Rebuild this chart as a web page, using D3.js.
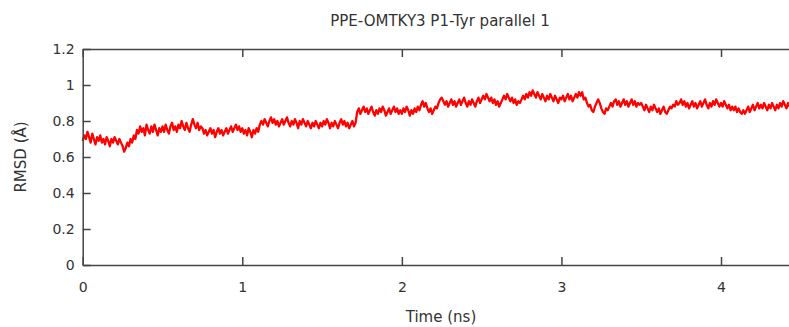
<!DOCTYPE html>
<html>
<head>
<meta charset="utf-8">
<script src="https://cdn.jsdelivr.net/npm/d3@7/dist/d3.min.js"></script>
<style>
  html, body { margin: 0; padding: 0; background: #fff; overflow: hidden; }
  svg { display: block; }
  text { font-family: "DejaVu Sans", Verdana, sans-serif; fill: #333; }
</style>
</head>
<body>
<svg id="chart" width="789" height="327"></svg>
<script>
// RMSD trace sampled every 0.01 ns, 0 – 4.5 ns
const timeStep = 0.01;
const rmsd = [
  0.69,0.72,0.70,0.74,0.71,0.68,0.73,0.70,0.67,0.71,0.69,0.72,0.68,0.70,0.67,0.71,0.69,0.66,0.70,0.68,0.71,0.69,0.67,0.70,0.68,
  0.66,0.63,0.65,0.68,0.66,0.70,0.68,0.72,0.70,0.75,0.73,0.77,0.74,0.76,0.72,0.78,0.75,0.73,0.77,0.74,0.78,0.75,0.72,0.76,0.74,
  0.77,0.74,0.78,0.75,0.73,0.77,0.79,0.75,0.77,0.74,0.78,0.76,0.80,0.77,0.75,0.79,0.76,0.74,0.78,0.81,0.78,0.76,0.79,0.75,0.77,
  0.76,0.73,0.75,0.72,0.74,0.76,0.73,0.75,0.71,0.74,0.76,0.73,0.75,0.72,0.74,0.76,0.73,0.75,0.77,0.74,0.76,0.78,0.75,0.77,0.74,
  0.76,0.73,0.75,0.72,0.76,0.74,0.71,0.75,0.73,0.76,0.74,0.78,0.80,0.78,0.81,0.79,0.77,0.80,0.82,0.79,0.81,0.78,0.80,0.77,0.79,
  0.81,0.78,0.80,0.82,0.79,0.77,0.80,0.78,0.81,0.79,0.76,0.80,0.78,0.81,0.79,0.77,0.80,0.78,0.76,0.79,0.77,0.80,0.78,0.76,0.79,
  0.77,0.80,0.78,0.81,0.79,0.76,0.79,0.77,0.80,0.78,0.76,0.79,0.81,0.78,0.80,0.77,0.79,0.76,0.78,0.80,0.77,0.79,0.85,0.87,0.84,
  0.86,0.88,0.85,0.87,0.84,0.86,0.88,0.85,0.83,0.86,0.84,0.87,0.85,0.88,0.86,0.83,0.85,0.87,0.84,0.86,0.88,0.85,0.87,0.84,0.86,
  0.84,0.87,0.85,0.88,0.86,0.83,0.86,0.84,0.87,0.85,0.88,0.86,0.89,0.91,0.88,0.90,0.87,0.85,0.87,0.84,0.86,0.88,0.87,0.90,0.92,
  0.93,0.91,0.89,0.91,0.88,0.90,0.92,0.89,0.91,0.88,0.90,0.92,0.89,0.91,0.93,0.90,0.88,0.91,0.89,0.92,0.90,0.88,0.91,0.93,0.90,
  0.92,0.94,0.92,0.95,0.93,0.91,0.93,0.90,0.92,0.89,0.91,0.88,0.90,0.92,0.94,0.92,0.95,0.93,0.91,0.93,0.90,0.92,0.89,0.91,0.90,
  0.92,0.94,0.92,0.95,0.93,0.96,0.94,0.97,0.95,0.93,0.96,0.94,0.92,0.95,0.93,0.91,0.94,0.92,0.95,0.93,0.91,0.94,0.92,0.90,0.93,
  0.92,0.94,0.91,0.93,0.95,0.92,0.94,0.91,0.93,0.95,0.93,0.96,0.94,0.96,0.92,0.93,0.90,0.88,0.89,0.86,0.85,0.88,0.90,0.92,0.90,
  0.87,0.85,0.84,0.87,0.86,0.88,0.90,0.88,0.91,0.92,0.89,0.91,0.88,0.90,0.92,0.89,0.91,0.88,0.90,0.92,0.89,0.91,0.88,0.90,0.89,
  0.90,0.88,0.86,0.89,0.87,0.85,0.88,0.86,0.89,0.87,0.85,0.87,0.84,0.86,0.88,0.85,0.84,0.86,0.88,0.87,0.89,0.88,0.91,0.89,0.90,
  0.92,0.89,0.91,0.88,0.90,0.87,0.89,0.91,0.88,0.90,0.87,0.89,0.91,0.88,0.90,0.92,0.89,0.87,0.90,0.88,0.91,0.89,0.92,0.90,0.88,
  0.90,0.88,0.91,0.89,0.87,0.89,0.86,0.88,0.86,0.88,0.85,0.87,0.85,0.84,0.86,0.84,0.86,0.88,0.85,0.87,0.89,0.86,0.88,0.90,0.87,
  0.89,0.87,0.90,0.88,0.86,0.89,0.87,0.90,0.88,0.86,0.89,0.87,0.90,0.88,0.91,0.89,0.87,0.90,0.88,0.86,0.89,0.87,0.90,0.88,0.89,
  0.88
];
const xTicks = [0, 1, 2, 3, 4];
const yTicks = [0, 0.2, 0.4, 0.6, 0.8, 1, 1.2];
const xDomain = [0, 4.5];
const yDomain = [0, 1.2];
const titleText = "PPE-OMTKY3 P1-Tyr parallel 1";
const xLabel = "Time (ns)";
const yLabel = "RMSD (Å)";

const svg = d3.select("#chart");
const plotLeft = 82.7, plotRight = 800.8, plotTop = 49, plotBottom = 265;

const x = d3.scaleLinear().domain(xDomain).range([plotLeft, plotRight]);
const y = d3.scaleLinear().domain(yDomain).range([plotBottom, plotTop]);

const axisColor = "#444";

// data line (drawn under the frame)
const pts = rmsd.map((v, i) => [i * timeStep, v]);
svg.append("path")
  .datum(pts)
  .attr("fill", "none")
  .attr("stroke", "#ff0000")
  .attr("stroke-width", 2.3)
  .attr("stroke-linejoin", "round")
  .attr("d", d3.line().x(d => x(d[0])).y(d => y(d[1])));

function styleAxis(g) {
  g.selectAll(".domain").attr("stroke", axisColor).attr("stroke-width", 1.5);
  g.selectAll(".tick line").attr("stroke", axisColor).attr("stroke-width", 1.5);
  g.selectAll(".tick text").attr("fill", "#26263a").style("font-size", "14px")
    .style("font-family", "'DejaVu Sans', Verdana, sans-serif");
}

// bottom axis
svg.append("g")
  .attr("transform", `translate(0,${plotBottom})`)
  .call(d3.axisBottom(x).tickValues(xTicks).tickFormat(d3.format("d"))
    .tickSizeInner(-8).tickSizeOuter(0).tickPadding(17))
  .call(styleAxis);

// top mirror axis
svg.append("g")
  .attr("transform", `translate(0,${plotTop})`)
  .call(d3.axisTop(x).tickValues(xTicks).tickFormat("")
    .tickSizeInner(-8).tickSizeOuter(0))
  .call(styleAxis);

// left axis
svg.append("g")
  .attr("transform", `translate(${plotLeft},0)`)
  .call(d3.axisLeft(y).tickValues(yTicks).tickFormat(d => String(+d.toFixed(1)))
    .tickSizeInner(-8).tickSizeOuter(0).tickPadding(8))
  .call(styleAxis);

// right mirror axis
svg.append("g")
  .attr("transform", `translate(${plotRight},0)`)
  .call(d3.axisRight(y).tickValues(yTicks).tickFormat("")
    .tickSizeInner(-8).tickSizeOuter(0))
  .call(styleAxis);

// title
svg.append("text")
  .attr("x", 440).attr("y", 26)
  .attr("text-anchor", "middle")
  .style("font-size", "15px")
  .text(titleText);

// axis titles
svg.append("text")
  .attr("x", 441).attr("y", 322)
  .attr("text-anchor", "middle")
  .style("font-size", "15px")
  .text(xLabel);

svg.append("text")
  .attr("transform", `translate(26,157) rotate(-90)`)
  .attr("text-anchor", "middle")
  .style("font-size", "15px")
  .text(yLabel);
</script>
</body>
</html>
